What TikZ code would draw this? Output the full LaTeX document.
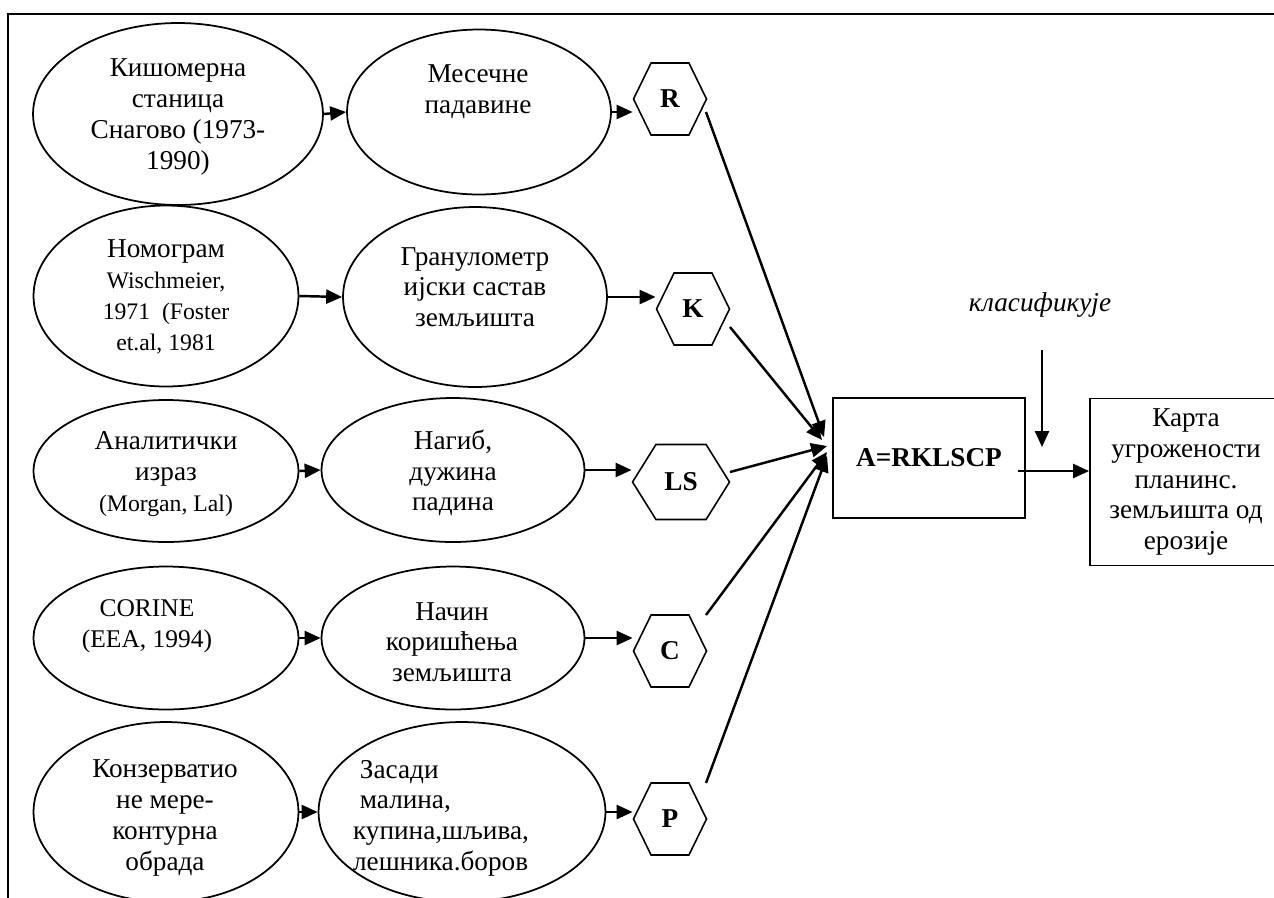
\documentclass[tikz,border=0pt]{standalone}
\usepackage{fontspec}
\setmainfont{Liberation Serif}
\usetikzlibrary{positioning,arrows.meta,calc,shapes.geometric,shapes.symbols}

\newcommand{\latsz}{\fontsize{13.5}{17.5}\selectfont}

\begin{document}
\begin{tikzpicture}[
  x=0.02cm, y=-0.02cm,
  font=\fontsize{15.5}{17.5}\selectfont,
  oval/.style={draw, ellipse, line width=1pt, inner sep=0pt},
  txt/.style={align=center, inner sep=0pt},
  hexa/.style={draw, signal, signal to=east and west, signal pointer angle=128,
               line width=0.9pt, minimum width=1.46cm, minimum height=1.44cm,
               inner sep=0pt, font=\fontsize{15.5}{17.5}\selectfont\bfseries},
  blok/.style={draw, line width=1.1pt, align=center, inner sep=2pt},
  fl/.style={-{Triangle[length=3.2mm, width=2.8mm]}, line width=1.4pt}
]
\useasboundingbox (0,0) rectangle (1274,897);
\clip (0,0) rectangle (1274,897);
\draw[line width=1.3pt] (8,14) rectangle (1300,930);

% izvori podataka
\node[oval, minimum width=5.8cm, minimum height=3.64cm] (src1) at (178,114) {};
\node[oval, minimum width=5.3cm, minimum height=3.62cm] (src2) at (166,296) {};
\node[oval, minimum width=5.3cm, minimum height=2.84cm] (src3) at (166,471) {};
\node[oval, minimum width=5.3cm, minimum height=2.86cm] (src4) at (166,638) {};
\node[oval, minimum width=5.3cm, minimum height=3.6cm] (src5) at (166,812) {};

\node[txt] (src1t) at (178,117) {Кишомерна\\станица\\Снагово (1973-\\1990)};
\node[txt] (src2t) at (166,297)
  {Номограм\\\latsz Wischmeier,\\\latsz 1971 \ (Foster\\\latsz et.al, 1981};
\node[txt] (src3t) at (166,474) {Аналитички\\израз\\\latsz (Morgan, Lal)};
\node[txt, font=\fontsize{14.5}{17.5}\selectfont] (src4t) at (147,626) {CORINE\\(EEA, 1994)};
\node[txt] (src5t) at (165,818) {Конзерватио\\не мере-\\контурна\\обрада};

% parametri
\node[oval, minimum width=5.28cm, minimum height=3.3cm] (mid1) at (479,112) {};
\node[oval, minimum width=5.28cm, minimum height=3.6cm] (mid2) at (475,297) {};
\node[oval, minimum width=5.26cm, minimum height=2.88cm] (mid3) at (453,470) {};
\node[oval, minimum width=5.26cm, minimum height=2.86cm] (mid4) at (453,638) {};
\node[oval, minimum width=5.74cm, minimum height=3.6cm] (mid5) at (462,812) {};

\node[txt] (mid1t) at (478,92) {Месечне\\падавине};
\node[txt] (mid2t) at (475,287) {Гранулометр\\ијски састав\\земљишта};
\node[txt] (mid3t) at (453,473) {Нагиб,\\дужина\\падина};
\node[txt] (mid4t) at (452,642) {Начин\\коришћења\\земљишта};
\node[txt, align=left] (mid5t) at (441,818) {\ Засади\\\ малина,\\купина,шљива,\\лешника.боров};

% faktori
\node[hexa] (hR) at (670,99) {R};
\node[hexa] (hK) at (693,309) {K};
\node[hexa, minimum width=1.94cm, minimum height=1.5cm, signal pointer angle=116] (hLS) at (681,482) {LS};
\node[hexa] (hC) at (670,651) {C};
\node[hexa] (hP) at (670,819) {P};

\node[blok, minimum width=3.84cm, minimum height=2.4cm] (box) at (929,458) {\textbf{A=RKLSCP}};
\node[blok, minimum width=3.84cm, minimum height=3.34cm] (map) at (1186,482)
  {Карта\\угрожености\\планинс.\\земљишта од\\ерозије};
\node[font=\fontsize{15.5}{17.5}\selectfont\itshape] (cls) at (1040,305) {класификује};

\foreach \i/\h in {1/hR,2/hK,3/hLS,4/hC,5/hP} {
  \draw[fl] (src\i.east) -- (mid\i.west);
  \draw[fl] (mid\i.east) -- (mid\i.east -| \h.west);
}

\foreach \h/\sx/\sy/\ex/\ey in {hR/36/13/-8/-21, hK/37/18/-10/-18, hLS/49/-10/-5/-12,
                                hC/36/-36/-5/-6, hP/36/-36/-5/-2}
  \draw[fl] ($(\h)+(\sx,\sy)$) -- ($(box.west)+(\ex,\ey)$);

\coordinate (clsa) at (1042,350);
\coordinate (clsb) at (1042,447);
\draw[fl] (clsa) -- (clsb);
\draw[fl] ($(box.east)+(-8,13)$) -- ($(box.east -| map.west)+(0,13)$);
\end{tikzpicture}
\end{document}
